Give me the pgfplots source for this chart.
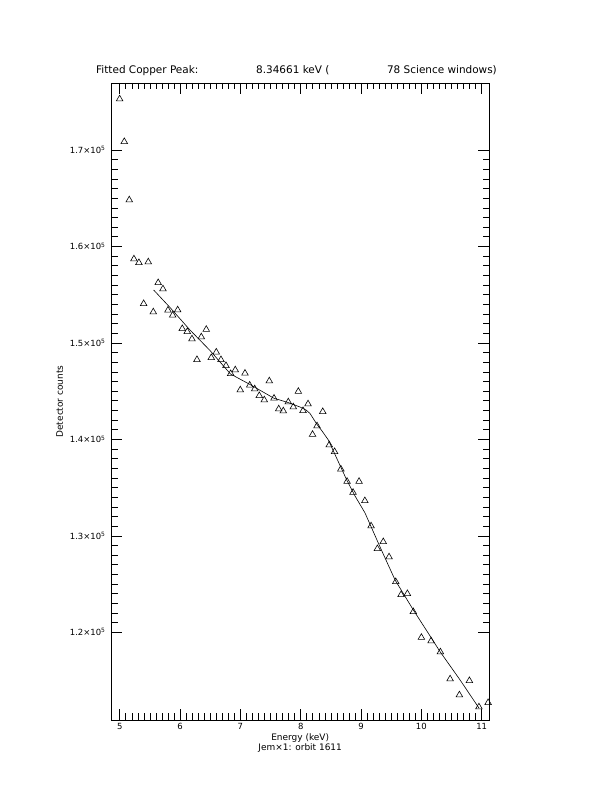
\documentclass[border=0pt]{standalone}
\usepackage{pgfplots}
\pgfplotsset{compat=1.18}
\usepackage{fontspec}
\setmainfont{DejaVu Sans}
\pgfplotstableread{
x y
4.998 175287
5.075 170860
5.158 164817
5.235 158700
5.318 158316
5.396 154066
5.473 158389
5.556 153205
5.637 156233
5.716 155590
5.799 153382
5.877 152863
5.960 153413
6.036 151474
6.119 151163
6.197 150407
6.280 148260
6.352 150614
6.434 151391
6.517 148467
6.600 149038
6.678 148250
6.761 147638
6.839 146809
6.915 147193
6.998 145119
7.076 146850
7.154 145606
7.237 145222
7.313 144528
7.396 144083
7.479 146052
7.557 144259
7.635 143149
7.711 142942
7.794 143875
7.877 143357
7.960 144964
8.038 142973
8.121 143668
8.196 140506
8.270 141387
8.365 142870
8.473 139418
8.561 138723
8.665 136909
8.768 135633
8.867 134493
8.967 135633
9.063 133633
9.166 131020
9.270 128657
9.368 129382
9.464 127807
9.575 125236
9.663 123888
9.768 124002
9.866 122126
10.000 119461
10.161 119098
10.315 117958
10.476 115158
10.630 113500
10.796 114982
10.954 112256
11.106 112702
}\datatable
\pgfplotstableread{
x y
5.562 155486
5.833 153672
6.164 151339
6.496 149214
6.836 146778
7.159 145689
7.557 144259
7.789 143824
7.987 143357
8.088 143046
8.154 142683
8.265 141594
8.353 140869
8.458 139936
8.602 137966
8.763 135789
8.900 134130
9.066 132368
9.315 128843
9.564 125422
9.867 122312
10.144 119616
10.310 117989
10.642 115055
10.957 112121
}\fittable
\begin{document}
\begin{tikzpicture}[x=1bp,y=1bp]
\useasboundingbox[fill=white] (0,0) rectangle (612,792);
\begin{axis}[
  at={(111bp,72bp)}, anchor=south west,
  scale only axis, width=378.3bp, height=637bp,
  xmin=4.855, xmax=11.126, ymin=110908, ymax=176946,
  xtick={5,6,7,8,9,10,11},
  xticklabels={5,6,7,8,9,10,11},
  ytick={120000,130000,140000,150000,160000,170000},
  yticklabels={1.2×10\textsuperscript{5},1.3×10\textsuperscript{5},1.4×10\textsuperscript{5},1.5×10\textsuperscript{5},1.6×10\textsuperscript{5},1.7×10\textsuperscript{5}},
  scaled ticks=false,
  minor x tick num=9, minor y tick num=9,
  tick align=inside,
  major tick length=11bp, minor tick length=6.5bp,
  tick style={black, line width=0.6bp},
  axis line style={line width=0.8bp},
  tick label style={font=\fontsize{8.5}{9}\selectfont},
  yticklabel style={xshift=-2bp},
  xlabel={Energy (keV)\\Jem×1: orbit 1611},
  xlabel style={align=center, font=\fontsize{9}{6.5}\selectfont, yshift=3bp},
  ylabel={Detector counts},
  ylabel style={font=\fontsize{9}{10}\selectfont},
]
\addplot[only marks, mark=triangle, mark size=3.8bp, mark options={line width=0.6bp, black}] table[x=x,y=y] {\datatable};
\addplot[black, line width=0.6bp, no marks] table[x=x,y=y] {\fittable};
\end{axis}
\node[anchor=base west, inner sep=0, font=\fontsize{10.5}{12}\selectfont] at (96,718.7) {Fitted Copper Peak:};
\node[anchor=base west, inner sep=0, font=\fontsize{10.5}{12}\selectfont] at (256,718.7) {8.34661 keV (};
\node[anchor=base east, inner sep=0, font=\fontsize{10.5}{12}\selectfont] at (497,718.7) {78 Science windows)};
\end{tikzpicture}
\end{document}
